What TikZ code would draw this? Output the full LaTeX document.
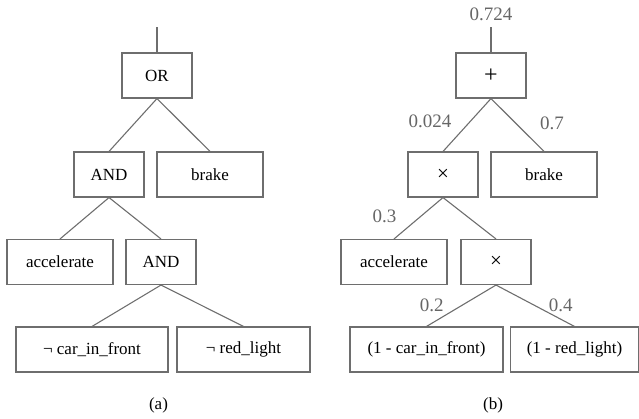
\documentclass[tikz,border=0pt]{standalone}
\usepackage{fontspec}
\setmainfont{Liberation Serif}
\definecolor{linegray}{HTML}{6E6E6E}
\definecolor{labelgray}{HTML}{666666}
\newcommand{\opsym}[2]{{\fontsize{#1}{#1}\selectfont\raisebox{-2.5pt}{#2}}}
\begin{document}
\begin{tikzpicture}[
x=1pt, y=1pt,
every node/.style = {font=\fontsize{17}{20}\selectfont},
box/.style = {shape=rectangle, draw=linegray, line width=1.1pt, minimum height=45pt, inner sep=0pt, text=black},
weight/.style = {text=labelgray, font=\fontsize{19}{22}\selectfont},
stem/.style = {draw=linegray, line width=1.1pt},
edge from parent/.style = {stem},
parent anchor=south, child anchor=north,
level 1/.style = {level distance=99pt, sibling distance=101pt},
level 2/.style = {level distance=87.5pt, sibling distance=101pt},
level 3/.style = {level distance=87.5pt, sibling distance=150pt},
]
\useasboundingbox (0,0) rectangle (639,-418);

  % (a) logic tree
  \coordinate (atop) at (157,-27);
  \node[box, minimum width=70pt] (aor) at (157,-75.5) {OR}
    child[xshift=2.5pt]
    {
    node[box, minimum width=70pt] (aand) {AND}
    child[xshift=1.5pt]{node[box, minimum width=106pt] (aacc) {accelerate}}
    child[xshift=1.5pt]
            {
            node[box, minimum width=70pt] (aand2) {AND}
            child[xshift=6pt]{node[box, minimum width=152pt] (acar) {¬ car\_in\_front}}
            child[xshift=7.5pt]{node[box, minimum width=133pt] (ared) {¬ red\_light}}
            }
    }
    child[xshift=2.5pt]{node[box, minimum width=106pt] (abrake) {brake}};
  \draw[stem] (atop) -- (aor.north);

  % (b) arithmetic tree
  \coordinate (btop) at (491,-27);
  \node[box, minimum width=70pt] (bplus) at (491,-75.5) {\opsym{24}{+}}
    child[xshift=2.5pt]
    {
    node[box, minimum width=70pt] (btimes) {\opsym{21}{×}}
    child[xshift=1.5pt]{node[box, minimum width=106pt] (bacc) {accelerate}
      edge from parent node[weight, xshift=-34pt, yshift=2pt] (w03) {0.3}}
    child[xshift=2.5pt]
            {
            node[box, minimum width=70pt] (btimes2) {\opsym{21}{×}}
            child[xshift=5.5pt]{node[box, minimum width=153pt] (bcar) {(1 - car\_in\_front)}
              edge from parent node[weight, xshift=-29.5pt, yshift=0.5pt] (w02) {0.2}}
            child[xshift=3.5pt]{node[box, minimum width=128pt] (bred) {(1 - red\_light)}
              edge from parent node[weight, xshift=25.5pt, yshift=0.5pt] (w04) {0.4}}
            }
    edge from parent node[weight, xshift=-37pt, yshift=3.5pt] (w0024) {0.024}
    }
    child[xshift=2.5pt]{node[box, minimum width=106pt] (bbrake) {brake}
      edge from parent node[weight, xshift=34.5pt, yshift=1.5pt] (w07) {0.7}};
  \draw[stem] (btop) -- (bplus.north);
  \node[weight] (wroot) at (491,-14) {0.724};

  % captions
  \node (capa) at (158.5,-405) {(a)};
  \node (capb) at (493,-405) {(b)};
\end{tikzpicture}
\end{document}
